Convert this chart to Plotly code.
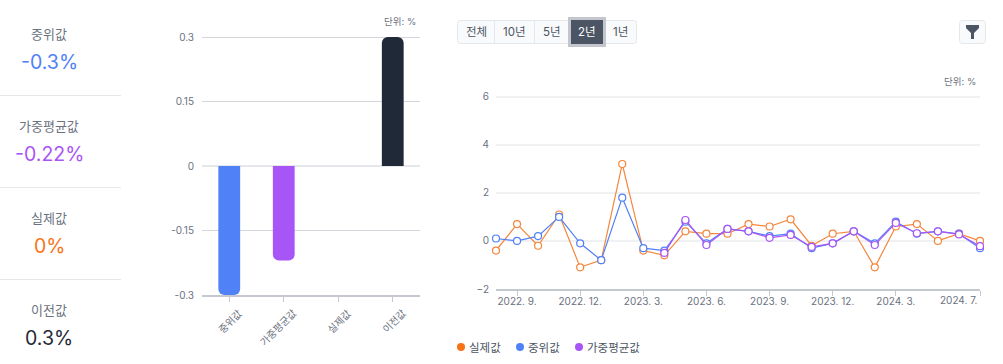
import plotly.graph_objects as go

W, H = 1003, 364
FONT = "Inter, 'Noto Sans CJK KR', sans-serif"
GRAY = "#6b7280"
BLUE, PURPLE, ORANGE, DARK = "#5081f7", "#a855f7", "#f97316", "#1f2937"

# Snapshot bars
bar_categories = ["중위값", "가중평균값", "실제값", "이전값"]
bar_values = [-0.3, -0.22, 0, 0.3]
bar_colors = [BLUE, PURPLE, ORANGE, DARK]
bar_tickvals = [-0.3, -0.15, 0, 0.15, 0.3]
bar_ticktext = ["-0.3", "-0.15", "0", "0.15", "0.3"]

# Time series
months = ["2022. 8.", "2022. 9.", "2022. 10.", "2022. 11.", "2022. 12.",
          "2023. 1.", "2023. 2.", "2023. 3.", "2023. 4.", "2023. 5.", "2023. 6.", "2023. 7.",
          "2023. 8.", "2023. 9.", "2023. 10.", "2023. 11.", "2023. 12.",
          "2024. 1.", "2024. 2.", "2024. 3.", "2024. 4.", "2024. 5.", "2024. 6.", "2024. 7."]
actual = [-0.4, 0.7, -0.2, 1.1, -1.1, -0.8, 3.2, -0.4, -0.6, 0.4, 0.3, 0.3,
          0.7, 0.6, 0.9, -0.2, 0.3, 0.4, -1.1, 0.6, 0.7, 0.0, 0.3, 0.0]
median = [0.1, 0.0, 0.2, 1.0, -0.1, -0.8, 1.8, -0.3, -0.4, 0.8, -0.1, 0.5,
          0.4, 0.2, 0.3, -0.3, -0.1, 0.4, -0.1, 0.8, 0.3, 0.4, 0.3, -0.3]
weighted = [None] * 8 + [-0.5, 0.87, -0.17, 0.5, 0.4, 0.13, 0.25, -0.25,
                         -0.1, 0.4, -0.17, 0.75, 0.32, 0.4, 0.27, -0.22]
line_ticks = ["2022. 9.", "2022. 12.", "2023. 3.", "2023. 6.", "2023. 9.", "2023. 12.", "2024. 3."]
last_tick = "2024. 7."
line_y_ticks = [-2, 0, 2, 4, 6]

# Stat panel
stat_labels = ["중위값", "가중평균값", "실제값", "이전값"]
stat_values = ["-0.3%", "-0.22%", "0%", "0.3%"]
stat_colors = [BLUE, PURPLE, ORANGE, DARK]

# Controls and legend
range_buttons = ["전체", "10년", "5년", "2년", "1년"]
legend_items = [("실제값", ORANGE), ("중위값", BLUE), ("가중평균값", PURPLE)]


def px(x):
    return x / W


def py(y):
    return 1 - y / H


def text(x, y, s, size, color, anchor="center"):
    return dict(xref="paper", yref="paper", x=px(x), y=py(y), text=s, showarrow=False,
                xanchor=anchor, yanchor="middle", font=dict(size=size, color=color, family=FONT))


def rrect(x0, y0, x1, y1, r, **kw):
    X0, X1, Y0, Y1 = px(x0), px(x1), py(y0), py(y1)
    rx, ry = r / W, r / H
    path = (f"M{X0+rx},{Y0} L{X1-rx},{Y0} Q{X1},{Y0} {X1},{Y0-ry} L{X1},{Y1+ry} Q{X1},{Y1} {X1-rx},{Y1} "
            f"L{X0+rx},{Y1} Q{X0},{Y1} {X0},{Y1+ry} L{X0},{Y0-ry} Q{X0},{Y0} {X0+rx},{Y0} Z")
    return dict(type="path", xref="paper", yref="paper", path=path, **kw)


fig = go.Figure()
fig.add_trace(go.Bar(x=bar_categories, y=bar_values, marker=dict(color=bar_colors, line_width=0),
                     width=0.4, xaxis="x", yaxis="y", showlegend=False))
for name, vals, col in [("실제값", actual, "#f5863c"), ("중위값", median, BLUE), ("가중평균값", weighted, PURPLE)]:
    fig.add_trace(go.Scatter(x=months, y=vals, name=name, mode="lines+markers", xaxis="x2", yaxis="y2",
                             line=dict(color=col, width=1.2),
                             marker=dict(size=7, color="white", line=dict(color=col, width=1.2)),
                             cliponaxis=False, showlegend=False, connectgaps=False))

annotations, shapes = [], []

# stats
for i, (lab, val, col) in enumerate(zip(stat_labels, stat_values, stat_colors)):
    annotations.append(text(49, 34 + 92 * i, lab, 13, GRAY))
    annotations.append(text(49, 62 + 92 * i, val, 19.5, col))
    if i < 3:
        shapes.append(dict(type="line", xref="paper", yref="paper", x0=0, x1=px(121),
                           y0=py(95.5 + 92 * i), y1=py(95.5 + 92 * i), line=dict(color="#e5e7eb", width=1)))

annotations.append(text(400, 21.5, "단위: %", 9.5, GRAY))
annotations.append(text(960, 82, "단위: %", 9.5, GRAY))

# bar category labels, rotated and ending just right of their tick
for cat in bar_categories:
    annotations.append(dict(xref="x", yref="paper", x=cat, y=py(304), text=cat, showarrow=False,
                            textangle=-45, xanchor="right", yanchor="top", xshift=18,
                            font=dict(size=10, color=GRAY, family=FONT)))

# range buttons
shapes.append(rrect(457.5, 20.5, 636.5, 43.5, 3, fillcolor="#f9fafb", line=dict(color="#e5e7eb", width=1), layer="below"))
edges = [457.5, 494.5, 534.5, 569.5, 604.5, 636.5]
for i, lab in enumerate(range_buttons):
    mid = (edges[i] + edges[i + 1]) / 2
    if i == 3:
        shapes.append(dict(type="rect", xref="paper", yref="paper", x0=px(edges[i]), x1=px(edges[i + 1]),
                           y0=py(18.5), y1=py(45.5), fillcolor="#4b5563",
                           line=dict(color="#c3c6cd", width=3), layer="below"))
    elif i and i != 4:
        shapes.append(dict(type="line", xref="paper", yref="paper", x0=px(edges[i]), x1=px(edges[i]),
                           y0=py(20.5), y1=py(43.5), line=dict(color="#e5e7eb", width=1), layer="below"))
    annotations.append(text(mid, 32, lab, 11.5, "white" if i == 3 else "#4b5563"))

# filter button
shapes.append(rrect(959.5, 20.5, 985.5, 43.5, 3, fillcolor="#f9fafb", line=dict(color="#e5e7eb", width=1), layer="below"))
fx = [966, 979, 979, 974, 974, 971, 971, 966]
fy = [25, 25, 28, 33, 39, 39, 33, 28]
shapes.append(dict(type="path", xref="paper", yref="paper", fillcolor="#4b5563", line=dict(width=0),
                   path="M" + " L".join(f"{px(a)},{py(b)}" for a, b in zip(fx, fy)) + " Z"))

# legend
for (lab, col), dot in zip(legend_items, [461, 520, 579]):
    shapes.append(dict(type="circle", xref="paper", yref="paper", x0=px(dot - 4), x1=px(dot + 4),
                       y0=py(351), y1=py(343), fillcolor=col, line=dict(width=0)))
    annotations.append(text(dot + 6, 347.5, lab, 11.5, "#4b5563", "left"))

annotations.append(dict(xref="x2", yref="paper", x=months[-1], y=py(300), text=last_tick, showarrow=False,
                        xanchor="right", yanchor="middle", xshift=0,
                        font=dict(size=10, color=GRAY, family=FONT)))

fig.update_layout(
    width=W, height=H, margin=dict(l=0, r=0, t=0, b=0), autosize=False,
    paper_bgcolor="white", plot_bgcolor="white", font=dict(family=FONT, color=GRAY),
    barcornerradius=6, annotations=annotations, shapes=shapes, hovermode="x",
    xaxis=dict(domain=[px(202), px(420)], type="category", range=[-0.5, 3.5], anchor="y", automargin=False,
               showgrid=False, zeroline=False, showline=True, linecolor="#c5c8ce", linewidth=2,
               ticks="outside", ticklen=5, tickcolor="#c5c8ce", tickwidth=1, showticklabels=False),
    yaxis=dict(domain=[py(295), py(35.5)], range=[-0.3, 0.3035], anchor="x", tickvals=bar_tickvals, automargin=False,
               ticktext=bar_ticktext, showgrid=True, gridcolor="#d5d7dc", gridwidth=1, zeroline=True,
               zerolinecolor="#e5e7eb", zerolinewidth=2, showline=False, ticks="", ticklabelstandoff=7,
               tickfont=dict(size=10, color=GRAY, family=FONT)),
    xaxis2=dict(domain=[px(496), px(980)], type="category", range=[0, 23], anchor="y2", automargin=False,
                categoryorder="array", categoryarray=months, tickmode="array",
                tickvals=line_ticks + [months[-1]], ticktext=line_ticks + [""],
                showgrid=False, zeroline=False, showline=True, linecolor="#c5c8ce", linewidth=2,
                ticks="outside", ticklen=5, tickcolor="#c5c8ce", tickwidth=1, tickangle=0, ticklabelstandoff=-3,
                tickfont=dict(size=10, color=GRAY, family=FONT)),
    yaxis2=dict(domain=[py(289), py(95.2)], range=[-2, 6.0625], anchor="x2", tickvals=line_y_ticks, automargin=False,
                showgrid=True, gridcolor="#f0f1f3", gridwidth=2, zeroline=True,
                zerolinecolor="#f0f1f3", zerolinewidth=2, showline=False, ticks="", ticklabelstandoff=6,
                tickfont=dict(size=10, color=GRAY, family=FONT)),
)

fig.write_html("out.html", config={"displayModeBar": False},
               post_script="document.body.style.margin='0';document.body.style.overflow='hidden';")
